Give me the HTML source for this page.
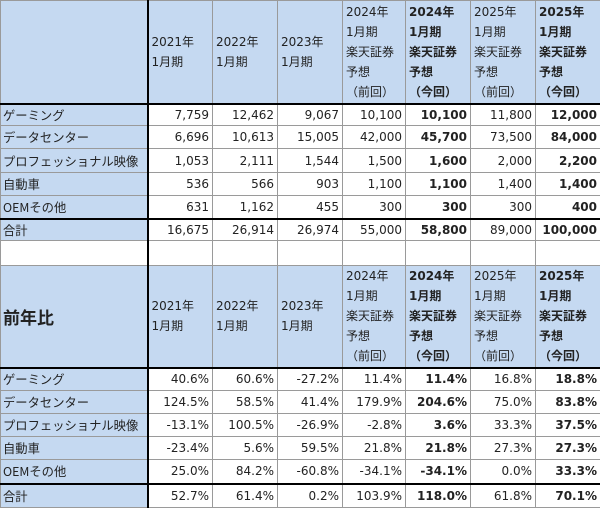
<!DOCTYPE html>
<html><head><meta charset="utf-8"><style>
body{margin:0;width:600px;height:507px;overflow:hidden;background:#fff}
table{border-collapse:collapse;table-layout:fixed;width:600px;font-family:"DejaVu Sans","Noto Sans CJK JP",sans-serif;font-size:12px;color:#222}
td{border:1px solid #9a9a9a;padding:0 3px;white-space:nowrap;overflow:hidden}
td.n{text-align:right}
td.b{font-weight:bold}
td.l{background:#c5d9f1;font-size:12.3px;font-family:"Noto Sans CJK JP","DejaVu Sans",sans-serif;border-right:2px solid #000;padding:0 2px}
td.h{background:#c5d9f1;line-height:20px;vertical-align:middle;font-family:"DejaVu Sans","Noto Sans CJK JP",sans-serif}
tr.hb td{border-bottom:2px solid #000}
tr.tt td{border-top:2px solid #000}
</style></head><body>
<table id="t">
<colgroup><col style="width:147px"><col style="width:65px"><col style="width:65px"><col style="width:65px"><col style="width:63px"><col style="width:65px"><col style="width:65px"><col style="width:65px"></colgroup>
<tbody id="tb"></tbody></table>
<script>
const colHeads=["2021年<br>1月期","2022年<br>1月期","2023年<br>1月期","2024年<br>1月期<br>楽天証券<br>予想<br>（前回）","2024年<br>1月期<br>楽天証券<br>予想<br>（今回）","2025年<br>1月期<br>楽天証券<br>予想<br>（前回）","2025年<br>1月期<br>楽天証券<br>予想<br>（今回）"];
const segs=["ゲーミング","データセンター","プロフェッショナル映像","自動車","OEMその他"];
const rev=[["7,759","12,462","9,067","10,100","10,100","11,800","12,000"],["6,696","10,613","15,005","42,000","45,700","73,500","84,000"],["1,053","2,111","1,544","1,500","1,600","2,000","2,200"],["536","566","903","1,100","1,100","1,400","1,400"],["631","1,162","455","300","300","300","400"]];
const revTotal=["16,675","26,914","26,974","55,000","58,800","89,000","100,000"];
const yoy=[["40.6%","60.6%","-27.2%","11.4%","11.4%","16.8%","18.8%"],["124.5%","58.5%","41.4%","179.9%","204.6%","75.0%","83.8%"],["-13.1%","100.5%","-26.9%","-2.8%","3.6%","33.3%","37.5%"],["-23.4%","5.6%","59.5%","21.8%","21.8%","27.3%","27.3%"],["25.0%","84.2%","-60.8%","-34.1%","-34.1%","0.0%","33.3%"]];
const yoyTotal=["52.7%","61.4%","0.2%","103.9%","118.0%","61.8%","70.1%"];
const tb=document.getElementById('tb');
function row(h,cls){const r=document.createElement('tr');r.style.height=h+'px';if(cls)r.className=cls;tb.appendChild(r);return r;}
function cell(r,html,cls){const c=document.createElement('td');c.innerHTML=html;c.className=cls;r.appendChild(c);return c;}
function header(h,label,name){
  const r=row(h,'hb');
  
  
  const c=cell(r,label,'l');
  c.style.fontWeight='bold';c.style.fontSize='17px';
  colHeads.forEach((t,i)=>{const hc=cell(r,t,'h'+((i==4||i==6)?' b':''));
    
    });
}
function body(data,total,hs,th){
  data.forEach((vals,k)=>{const r=row(hs[k]);
    
    
    cell(r,segs[k],'l');
    vals.forEach((v,i)=>cell(r,v,'n'+((i==4||i==6)?' b':'')));});
  const r=row(th,'tt');
  
  
  cell(r,'合計','l');
  total.forEach((v,i)=>cell(r,v,'n'+((i==4||i==6)?' b':'')));
}
header(103,'','revenue-header-row');
body(rev,revTotal,[22,23,24,23,23],22);
const br=row(25);


for(let i=0;i<8;i++){const c=cell(br,'','');if(i==0)c.style.borderRight='2px solid #000';}
header(102,'前年比','yoy-header-row');
body(yoy,yoyTotal,[23,23,23,23,24],24);
</script>
</body></html>
